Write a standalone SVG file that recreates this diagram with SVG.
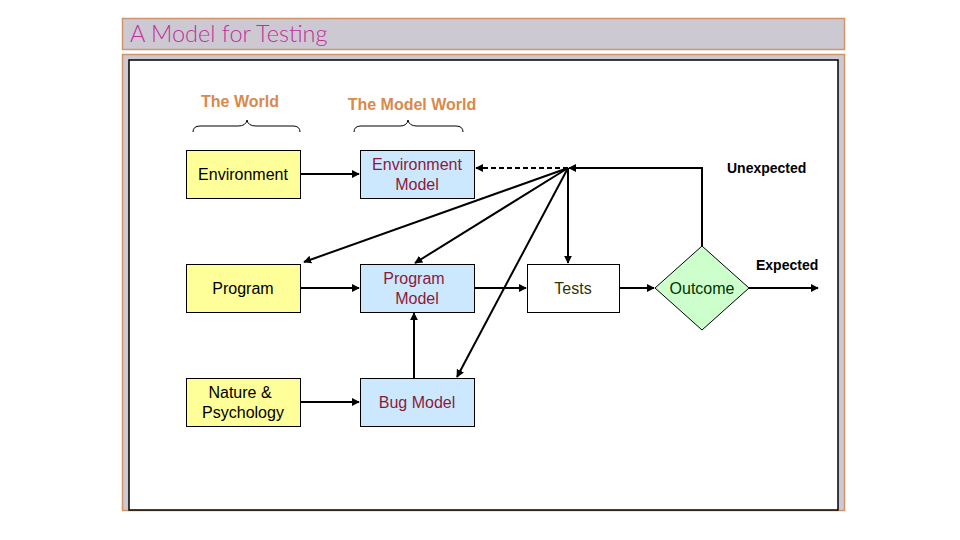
<svg xmlns="http://www.w3.org/2000/svg" width="960" height="540" viewBox="0 0 960 540">
<style>
.frame{fill:#CDC9D3;stroke:#D0956A;stroke-width:1.5}
.w{fill:#FFFF99;stroke:#000;stroke-width:1}
.m{fill:#CCE8FF;stroke:#000;stroke-width:1}
.t{font-family:"Liberation Sans",Arial,sans-serif;font-size:16px;text-anchor:middle}
.tw{fill:#000}
.tm{fill:#8B1A3A}
.hd{font-family:"Liberation Sans",Arial,sans-serif;font-size:16px;font-weight:bold;fill:#D9894A;text-anchor:middle}
.lb{font-family:"Liberation Sans",Arial,sans-serif;font-size:14px;font-weight:bold;fill:#000}
.c{fill:none;stroke:#000;stroke-width:2}
.brace{fill:none;stroke:#000;stroke-width:1}
</style>
<defs>
<marker id="ah" viewBox="0 0 10 10" refX="9" refY="5" markerWidth="4" markerHeight="4" orient="auto" markerUnits="strokeWidth">
<path d="M0,0 L10,5 L0,10 z" fill="#000"/>
</marker>
</defs>
<rect width="960" height="540" fill="#fff"/>
<g id="title">
<rect class="frame" x="122.5" y="18.5" width="722" height="31"/>
<text x="130" y="42" font-family="Lato,'Open Sans',sans-serif" font-weight="300" font-size="23.5" fill="#C0309A">A Model for Testing</text>
</g>
<g id="panel">
<rect class="frame" x="122.5" y="54.5" width="722" height="456"/>
<rect x="129" y="60" width="709" height="450" fill="#fff" stroke="#000" stroke-width="1.5"/>
</g>
<g id="headers">
<text class="hd" x="240" y="107">The World</text>
<text class="hd" x="412" y="110">The Model World</text>
<path class="brace" d="M193,132 Q193,126 200,126 L238,126 Q246,126 247,120 Q248,126 256,126 L293,126 Q300,126 300,132"/>
<path class="brace" d="M354,132 Q354,126 361,126 L400,126 Q407,126 408,120 Q409,126 417,126 L456,126 Q463,126 463,132"/>
</g>
<g id="connectors">
<line class="c" x1="300" y1="174" x2="359" y2="174" marker-end="url(#ah)"/>
<line class="c" x1="300" y1="288" x2="359" y2="288" marker-end="url(#ah)"/>
<line class="c" x1="300" y1="402" x2="359" y2="402" marker-end="url(#ah)"/>
<line class="c" x1="414" y1="378" x2="414" y2="313" marker-end="url(#ah)"/>
<line class="c" x1="474" y1="288" x2="526" y2="288" marker-end="url(#ah)"/>
<line class="c" x1="620" y1="288" x2="654" y2="288" marker-end="url(#ah)"/>
<line class="c" x1="749" y1="288" x2="818" y2="288" marker-end="url(#ah)"/>
<polyline class="c" points="702,246 702,168 569,168" marker-end="url(#ah)"/>
<line class="c" x1="568" y1="168" x2="476" y2="168" stroke-dasharray="5,3" marker-end="url(#ah)"/>
<line class="c" x1="568" y1="168" x2="568" y2="263" marker-end="url(#ah)"/>
<line class="c" x1="568" y1="168" x2="304" y2="262" marker-end="url(#ah)"/>
<line class="c" x1="568" y1="168" x2="415" y2="263" marker-end="url(#ah)"/>
<line class="c" x1="568" y1="168" x2="457" y2="377" marker-end="url(#ah)"/>
</g>
<g id="environment">
<rect class="w" x="186.5" y="150.5" width="114" height="48"/>
<text class="t tw" x="243" y="180">Environment</text>
</g>
<g id="environment-model">
<rect class="m" x="360.5" y="150.5" width="114" height="48"/>
<text class="t tm" x="417" y="170">Environment</text>
<text class="t tm" x="417" y="190">Model</text>
</g>
<g id="program">
<rect class="w" x="186.5" y="264.5" width="114" height="48"/>
<text class="t tw" x="243" y="294">Program</text>
</g>
<g id="program-model">
<rect class="m" x="360.5" y="264.5" width="114" height="48"/>
<text class="t tm" x="414" y="284">Program</text>
<text class="t tm" x="417" y="304">Model</text>
</g>
<g id="nature">
<rect class="w" x="186.5" y="378.5" width="114" height="48"/>
<text class="t tw" x="240" y="398">Nature &amp;</text>
<text class="t tw" x="243" y="418">Psychology</text>
</g>
<g id="bug-model">
<rect class="m" x="360.5" y="378.5" width="114" height="48"/>
<text class="t tm" x="417" y="408">Bug Model</text>
</g>
<g id="tests">
<rect x="527.5" y="264.5" width="92" height="48" fill="#fff" stroke="#000" stroke-width="1"/>
<text class="t" x="573" y="294" fill="#333300">Tests</text>
</g>
<g id="outcome">
<polygon points="702,246 749,288 702,330 655,288" fill="#CCFFCC" stroke="#000" stroke-width="1"/>
<text class="t" x="702" y="294" fill="#003300">Outcome</text>
</g>
<g id="labels">
<text class="lb" x="727" y="173">Unexpected</text>
<text class="lb" x="756" y="270">Expected</text>
</g>
</svg>
